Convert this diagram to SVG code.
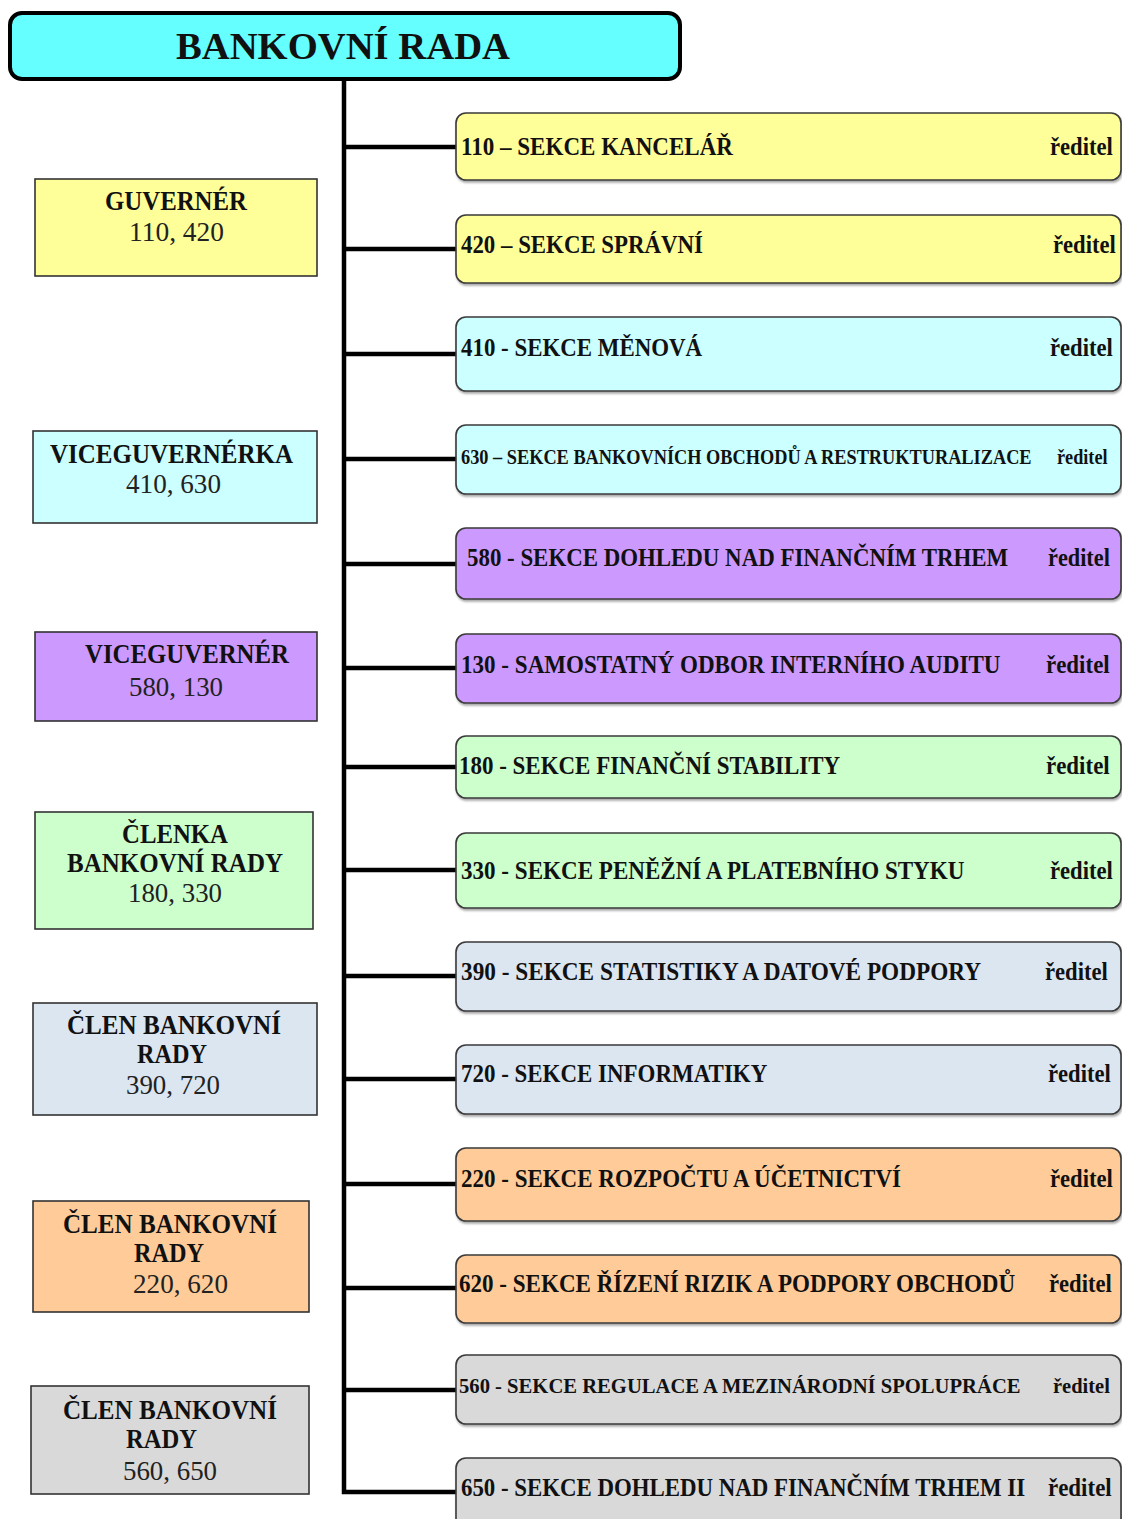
<svg xmlns="http://www.w3.org/2000/svg" width="1122" height="1519" viewBox="0 0 1122 1519">
<style>
.rb{stroke:#3a3a3a;stroke-width:1.6;filter:url(#sh)}
.lb{stroke:#333;stroke-width:1.6}
.t{font-family:"Liberation Serif","Times New Roman",serif;font-weight:bold;fill:#111}
.n{font-family:"Liberation Serif","Times New Roman",serif;font-weight:normal;fill:#222}
.c{stroke:#000;stroke-width:4.5;fill:none}
.y{fill:#FFFF99}.cy{fill:#CCFFFF}.p{fill:#CC99FF}.g{fill:#CCFFCC}.b{fill:#DCE6F1}.o{fill:#FFCC99}.gr{fill:#D9D9D9}
</style>
<defs>
<filter id="sh" x="-5%" y="-10%" width="110%" height="130%">
<feDropShadow dx="1" dy="2" stdDeviation="1" flood-color="#000" flood-opacity="0.35"/>
</filter>
</defs>
<rect width="1122" height="1519" fill="#fff"/>

<g id="connectors">
<path class="c" d="M344 79 V1492 H457"/>
<line class="c" x1="344" y1="147" x2="457" y2="147"/>
<line class="c" x1="344" y1="249" x2="457" y2="249"/>
<line class="c" x1="344" y1="354" x2="457" y2="354"/>
<line class="c" x1="344" y1="459" x2="457" y2="459"/>
<line class="c" x1="344" y1="564" x2="457" y2="564"/>
<line class="c" x1="344" y1="668" x2="457" y2="668"/>
<line class="c" x1="344" y1="767" x2="457" y2="767"/>
<line class="c" x1="344" y1="870" x2="457" y2="870"/>
<line class="c" x1="344" y1="976" x2="457" y2="976"/>
<line class="c" x1="344" y1="1079" x2="457" y2="1079"/>
<line class="c" x1="344" y1="1184" x2="457" y2="1184"/>
<line class="c" x1="344" y1="1288" x2="457" y2="1288"/>
<line class="c" x1="344" y1="1390" x2="457" y2="1390"/>
</g>

<g id="bankovni-rada">
<rect x="10" y="13" width="670" height="66" rx="12" fill="#66FFFF" stroke="#000" stroke-width="4"/>
<text class="t" x="176" y="59" font-size="38" textLength="334" lengthAdjust="spacingAndGlyphs">BANKOVNÍ RADA</text>
</g>

<!-- left nodes -->
<g id="guverner">
<rect class="lb y" x="35" y="179" width="282" height="97"/>
<text class="t" x="105" y="210" font-size="27" textLength="142" lengthAdjust="spacingAndGlyphs">GUVERNÉR</text>
<text class="n" x="129" y="241" font-size="27" textLength="95" lengthAdjust="spacingAndGlyphs">110, 420</text>
</g>
<g id="viceguvernerka">
<rect class="lb cy" x="33" y="431" width="284" height="92"/>
<text class="t" x="50" y="463" font-size="27" textLength="243" lengthAdjust="spacingAndGlyphs">VICEGUVERNÉRKA</text>
<text class="n" x="126" y="493" font-size="27" textLength="95" lengthAdjust="spacingAndGlyphs">410, 630</text>
</g>
<g id="viceguverner">
<rect class="lb p" x="35" y="632" width="282" height="89"/>
<text class="t" x="85" y="663" font-size="27" textLength="204" lengthAdjust="spacingAndGlyphs">VICEGUVERNÉR</text>
<text class="n" x="129" y="696" font-size="27" textLength="94" lengthAdjust="spacingAndGlyphs">580, 130</text>
</g>
<g id="clenka-180-330">
<rect class="lb g" x="35" y="812" width="278" height="117"/>
<text class="t" x="122" y="843" font-size="27" textLength="106" lengthAdjust="spacingAndGlyphs">ČLENKA</text>
<text class="t" x="67" y="872" font-size="27" textLength="216" lengthAdjust="spacingAndGlyphs">BANKOVNÍ RADY</text>
<text class="n" x="128" y="902" font-size="27" textLength="94" lengthAdjust="spacingAndGlyphs">180, 330</text>
</g>
<g id="clen-390-720">
<rect class="lb b" x="33" y="1003" width="284" height="112"/>
<text class="t" x="67" y="1034" font-size="27" textLength="214" lengthAdjust="spacingAndGlyphs">ČLEN BANKOVNÍ</text>
<text class="t" x="137" y="1063" font-size="27" textLength="70" lengthAdjust="spacingAndGlyphs">RADY</text>
<text class="n" x="126" y="1094" font-size="27" textLength="94" lengthAdjust="spacingAndGlyphs">390, 720</text>
</g>
<g id="clen-220-620">
<rect class="lb o" x="33" y="1201" width="276" height="111"/>
<text class="t" x="63" y="1233" font-size="27" textLength="214" lengthAdjust="spacingAndGlyphs">ČLEN BANKOVNÍ</text>
<text class="t" x="134" y="1262" font-size="27" textLength="70" lengthAdjust="spacingAndGlyphs">RADY</text>
<text class="n" x="133" y="1293" font-size="27" textLength="95" lengthAdjust="spacingAndGlyphs">220, 620</text>
</g>
<g id="clen-560-650">
<rect class="lb gr" x="31" y="1386" width="278" height="108"/>
<text class="t" x="63" y="1419" font-size="27" textLength="214" lengthAdjust="spacingAndGlyphs">ČLEN BANKOVNÍ</text>
<text class="t" x="126" y="1448" font-size="27" textLength="71" lengthAdjust="spacingAndGlyphs">RADY</text>
<text class="n" x="123" y="1480" font-size="27" textLength="94" lengthAdjust="spacingAndGlyphs">560, 650</text>
</g>

<!-- right nodes -->
<g id="s110">
<rect class="rb y" x="456" y="113" width="665" height="67" rx="10"/>
<text class="t" transform="translate(461,155) scale(0.88,1)" font-size="26" textLength="309" lengthAdjust="spacingAndGlyphs">110 – SEKCE KANCELÁŘ</text>
<text class="t" transform="translate(1050,155) scale(0.91,1)" font-size="25" textLength="69" lengthAdjust="spacingAndGlyphs">ředitel</text>
</g>
<g id="s420">
<rect class="rb y" x="456" y="215" width="665" height="68" rx="10"/>
<text class="t" transform="translate(461,253) scale(0.88,1)" font-size="26" textLength="275" lengthAdjust="spacingAndGlyphs">420 – SEKCE SPRÁVNÍ</text>
<text class="t" transform="translate(1053,253) scale(0.91,1)" font-size="25" textLength="69" lengthAdjust="spacingAndGlyphs">ředitel</text>
</g>
<g id="s410">
<rect class="rb cy" x="456" y="317" width="665" height="74" rx="10"/>
<text class="t" transform="translate(461,356) scale(0.88,1)" font-size="26" textLength="274" lengthAdjust="spacingAndGlyphs">410 - SEKCE MĚNOVÁ</text>
<text class="t" transform="translate(1050,356) scale(0.91,1)" font-size="25" textLength="69" lengthAdjust="spacingAndGlyphs">ředitel</text>
</g>
<g id="s630">
<rect class="rb cy" x="456" y="425" width="665" height="69" rx="10"/>
<text class="t" transform="translate(461,464) scale(0.91,1)" font-size="20" textLength="627" lengthAdjust="spacingAndGlyphs">630 – SEKCE BANKOVNÍCH OBCHODŮ A RESTRUKTURALIZACE</text>
<text class="t" transform="translate(1057,464) scale(0.92,1)" font-size="20" textLength="55" lengthAdjust="spacingAndGlyphs">ředitel</text>
</g>
<g id="s580">
<rect class="rb p" x="456" y="528" width="665" height="71" rx="10"/>
<text class="t" transform="translate(467,566) scale(0.88,1)" font-size="26" textLength="615" lengthAdjust="spacingAndGlyphs">580 - SEKCE DOHLEDU NAD FINANČNÍM TRHEM</text>
<text class="t" transform="translate(1048,566) scale(0.91,1)" font-size="25" textLength="68" lengthAdjust="spacingAndGlyphs">ředitel</text>
</g>
<g id="s130">
<rect class="rb p" x="456" y="634" width="665" height="69" rx="10"/>
<text class="t" transform="translate(461,673) scale(0.88,1)" font-size="26" textLength="613" lengthAdjust="spacingAndGlyphs">130 - SAMOSTATNÝ ODBOR INTERNÍHO AUDITU</text>
<text class="t" transform="translate(1046,673) scale(0.91,1)" font-size="25" textLength="70" lengthAdjust="spacingAndGlyphs">ředitel</text>
</g>
<g id="s180">
<rect class="rb g" x="456" y="736" width="665" height="62" rx="10"/>
<text class="t" transform="translate(459,774) scale(0.88,1)" font-size="26" textLength="433" lengthAdjust="spacingAndGlyphs">180 - SEKCE FINANČNÍ STABILITY</text>
<text class="t" transform="translate(1046,774) scale(0.91,1)" font-size="25" textLength="70" lengthAdjust="spacingAndGlyphs">ředitel</text>
</g>
<g id="s330">
<rect class="rb g" x="456" y="833" width="665" height="75" rx="10"/>
<text class="t" transform="translate(461,879) scale(0.88,1)" font-size="26" textLength="572" lengthAdjust="spacingAndGlyphs">330 - SEKCE PENĚŽNÍ A PLATEBNÍHO STYKU</text>
<text class="t" transform="translate(1050,879) scale(0.91,1)" font-size="25" textLength="69" lengthAdjust="spacingAndGlyphs">ředitel</text>
</g>
<g id="s390">
<rect class="rb b" x="456" y="942" width="665" height="69" rx="10"/>
<text class="t" transform="translate(461,980) scale(0.88,1)" font-size="26" textLength="591" lengthAdjust="spacingAndGlyphs">390 - SEKCE STATISTIKY A DATOVÉ PODPORY</text>
<text class="t" transform="translate(1045,980) scale(0.91,1)" font-size="25" textLength="69" lengthAdjust="spacingAndGlyphs">ředitel</text>
</g>
<g id="s720">
<rect class="rb b" x="456" y="1045" width="665" height="69" rx="10"/>
<text class="t" transform="translate(461,1082) scale(0.88,1)" font-size="26" textLength="348" lengthAdjust="spacingAndGlyphs">720 - SEKCE INFORMATIKY</text>
<text class="t" transform="translate(1048,1082) scale(0.91,1)" font-size="25" textLength="69" lengthAdjust="spacingAndGlyphs">ředitel</text>
</g>
<g id="s220">
<rect class="rb o" x="456" y="1148" width="665" height="73" rx="10"/>
<text class="t" transform="translate(461,1187) scale(0.88,1)" font-size="26" textLength="500" lengthAdjust="spacingAndGlyphs">220 - SEKCE ROZPOČTU A ÚČETNICTVÍ</text>
<text class="t" transform="translate(1050,1187) scale(0.91,1)" font-size="25" textLength="69" lengthAdjust="spacingAndGlyphs">ředitel</text>
</g>
<g id="s620">
<rect class="rb o" x="456" y="1255" width="665" height="68" rx="10"/>
<text class="t" transform="translate(459,1292) scale(0.88,1)" font-size="26" textLength="632" lengthAdjust="spacingAndGlyphs">620 - SEKCE ŘÍZENÍ RIZIK A PODPORY OBCHODŮ</text>
<text class="t" transform="translate(1049,1292) scale(0.91,1)" font-size="25" textLength="69" lengthAdjust="spacingAndGlyphs">ředitel</text>
</g>
<g id="s560">
<rect class="rb gr" x="456" y="1355" width="665" height="69" rx="10"/>
<text class="t" transform="translate(459,1393) scale(0.98,1)" font-size="21" textLength="573" lengthAdjust="spacingAndGlyphs">560 - SEKCE REGULACE A MEZINÁRODNÍ SPOLUPRÁCE</text>
<text class="t" transform="translate(1053,1393) scale(0.98,1)" font-size="21" textLength="58" lengthAdjust="spacingAndGlyphs">ředitel</text>
</g>
<g id="s650">
<rect class="rb gr" x="456" y="1458" width="665" height="80" rx="10"/>
<text class="t" transform="translate(461,1496) scale(0.88,1)" font-size="26" textLength="641" lengthAdjust="spacingAndGlyphs">650 - SEKCE DOHLEDU NAD FINANČNÍM TRHEM II</text>
<text class="t" transform="translate(1048,1496) scale(0.91,1)" font-size="25" textLength="70" lengthAdjust="spacingAndGlyphs">ředitel</text>
</g>
</svg>
